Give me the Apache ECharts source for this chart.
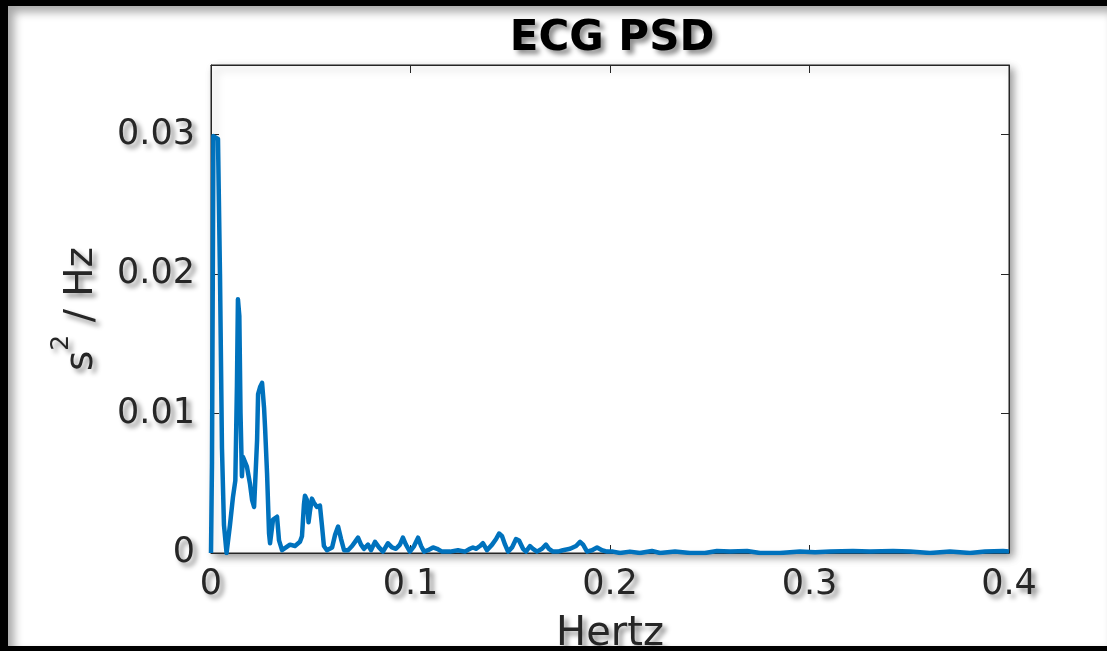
<!DOCTYPE html>
<html>
<head>
<meta charset="utf-8">
<script src="https://cdn.jsdelivr.net/npm/echarts@6/dist/echarts.min.js"></script>
<style>
html,body{margin:0;padding:0;background:#fff;}
#wrap{position:relative;width:1107px;height:651px;overflow:hidden;}
#chart{position:absolute;left:0;top:0;width:1107px;height:651px;}
#frame{position:absolute;left:0;top:0;width:1107px;height:651px;box-sizing:border-box;
  border-top:6px solid #000;border-left:8px solid #000;border-bottom:5px solid #000;
  box-shadow:inset 6px 6px 10px rgba(0,0,0,0.35);pointer-events:none;}
</style>
</head>
<body>
<div id="wrap"><div id="chart"></div><div id="frame"></div></div>
<script>
// Frequency (Hz) and PSD values
const freq = [
  0.0000, 0.0005, 0.0012, 0.0035, 0.0045, 0.0055, 0.0065, 0.0078,
  0.0095, 0.0110, 0.0122, 0.0130, 0.0135, 0.0142, 0.0148, 0.0155,
  0.0160, 0.0180, 0.0195, 0.0206, 0.0216, 0.0231, 0.0236, 0.0246,
  0.0256, 0.0261, 0.0266, 0.0271, 0.0281, 0.0291, 0.0296, 0.0311,
  0.0331, 0.0341, 0.0356, 0.0396, 0.0421, 0.0446, 0.0456, 0.0466,
  0.0471, 0.0481, 0.0489, 0.0496, 0.0506, 0.0516, 0.0531, 0.0546,
  0.0556, 0.0566, 0.0581, 0.0607, 0.0622, 0.0637, 0.0652, 0.0667,
  0.0687, 0.0707, 0.0722, 0.0737, 0.0752, 0.0767, 0.0787, 0.0802,
  0.0822, 0.0842, 0.0862, 0.0887, 0.0907, 0.0927, 0.0947, 0.0962,
  0.0977, 0.0997, 0.1018, 0.1038, 0.1053, 0.1068, 0.1088, 0.1113,
  0.1133, 0.1158, 0.1198, 0.1238, 0.1273, 0.1298, 0.1313, 0.1328,
  0.1348, 0.1363, 0.1383, 0.1409, 0.1429, 0.1444, 0.1459, 0.1474,
  0.1489, 0.1509, 0.1529, 0.1544, 0.1564, 0.1579, 0.1599, 0.1614,
  0.1634, 0.1659, 0.1679, 0.1694, 0.1714, 0.1739, 0.1764, 0.1800,
  0.1830, 0.1850, 0.1865, 0.1885, 0.1910, 0.1935, 0.1960, 0.1985,
  0.2015, 0.2050, 0.2100, 0.2150, 0.2210, 0.2251, 0.2326, 0.2401,
  0.2476, 0.2536, 0.2602, 0.2687, 0.2752, 0.2852, 0.2952, 0.3028,
  0.3103, 0.3218, 0.3303, 0.3419, 0.3504, 0.3604, 0.3704, 0.3805,
  0.3880, 0.3970, 0.4000
];
const psd = [
  0.0000, 0.0065, 0.0299, 0.0297, 0.0200, 0.0075, 0.0020, 0.0000,
  0.0020, 0.0040, 0.0052, 0.0120, 0.0182, 0.0170, 0.0100, 0.0055,
  0.0069, 0.0062, 0.0050, 0.0038, 0.0033, 0.0081, 0.0114, 0.0119,
  0.0122, 0.0122, 0.0104, 0.0090, 0.0057, 0.0014, 0.0007, 0.0024,
  0.0026, 0.0009, 0.0002, 0.0006, 0.0005, 0.0008, 0.0012, 0.0035,
  0.0041, 0.0038, 0.0022, 0.0030, 0.0039, 0.0036, 0.0033, 0.0034,
  0.0020, 0.0005, 0.0002, 0.0004, 0.0013, 0.0019, 0.0010, 0.0002,
  0.0002, 0.0005, 0.0008, 0.0011, 0.0006, 0.0003, 0.0006, 0.0002,
  0.0008, 0.0004, 0.0001, 0.0007, 0.0004, 0.0003, 0.0006, 0.0011,
  0.0006, 0.0001, 0.0005, 0.0011, 0.0005, 0.0001, 0.0002, 0.0004,
  0.0003, 0.0001, 0.0001, 0.0002, 0.0001, 0.0003, 0.0004, 0.0003,
  0.0005, 0.0007, 0.0002, 0.0006, 0.0010, 0.0014, 0.0012, 0.0006,
  0.0001, 0.0004, 0.0010, 0.0009, 0.0003, 0.0001, 0.0005, 0.0003,
  0.0001, 0.0003, 0.0006, 0.0003, 0.0001, 0.0001, 0.0002, 0.0003,
  0.0005, 0.0008, 0.0006, 0.0001, 0.0002, 0.0004, 0.0002, 0.0001,
  0.0001, 0.0000, 0.0001, 0.0000, 0.00015, 0.0000, 0.0001, 0.0000,
  0.0000, 0.00015, 0.0001, 0.00015, 0.0000, 0.0000, 0.0001, 0.00005,
  0.0001, 0.00015, 0.0001, 0.00015, 0.0001, 0.0000, 0.0001, 0.0000,
  0.0001, 0.00015, 0.0001
];
const xTicks = [0, 0.1, 0.2, 0.3, 0.4];
const yTicks = [0, 0.01, 0.02, 0.03];

const FONT = 'DejaVu Sans';
const TXT = '#262626';
const shadow = {textShadowColor:'rgba(0,0,0,0.45)', textShadowBlur:5, textShadowOffsetX:4, textShadowOffsetY:4};
const fmt = v => String(+(+v).toFixed(3));

const chart = echarts.init(document.getElementById('chart'), null, {renderer:'canvas'});
const axisCommon = {
  axisLine:{show:true, onZero:false, lineStyle:{color:TXT, width:1}},
  axisTick:{show:true, inside:true, length:8, lineStyle:{color:TXT, width:1}},
  splitLine:{show:false}
};
chart.setOption({
  animation:false,
  backgroundColor:'#fff',
  title:{
    text:'ECG PSD', left:607, top:13, textAlign:'center',
    textStyle:Object.assign({fontFamily:FONT, fontWeight:'bold', fontSize:42, color:'#000'}, shadow)
  },
  grid:{
    left:211, right:98, top:65, bottom:98, show:true, backgroundColor:'#fff',
    containLabel:false, outerBoundsMode:'none',
    borderColor:TXT, borderWidth:1,
    shadowColor:'rgba(0,0,0,0.4)', shadowBlur:8, shadowOffsetX:4, shadowOffsetY:4
  },
  xAxis:[
    Object.assign({
      type:'value', position:'bottom', min:xTicks[0], max:xTicks[xTicks.length-1], interval:0.1,
      name:'Hertz', nameLocation:'middle', nameGap:62,
      nameTextStyle:Object.assign({fontFamily:FONT, fontSize:40, color:TXT}, shadow),
      axisLabel:Object.assign({fontFamily:FONT, fontSize:35, color:TXT, margin:14, formatter:fmt}, shadow)
    }, axisCommon),
    Object.assign({
      type:'value', position:'top', min:xTicks[0], max:xTicks[xTicks.length-1], interval:0.1,
      axisLabel:{show:false}
    }, axisCommon)
  ],
  yAxis:[
    Object.assign({
      type:'value', position:'left', min:0, max:0.035, interval:0.01,
      name:'{s|s}{p|2}{s| / Hz}', nameLocation:'middle', nameGap:110, nameRotate:90,
      nameTextStyle:{
        rich:{
          s:Object.assign({fontFamily:FONT, fontSize:39, color:TXT, verticalAlign:'bottom', lineHeight:52}, shadow),
          p:Object.assign({fontFamily:FONT, fontSize:25, color:TXT, verticalAlign:'top', lineHeight:52}, shadow)
        }
      },
      axisLabel:Object.assign({fontFamily:FONT, fontSize:35, color:TXT, margin:16, showMaxLabel:false, formatter:fmt}, shadow)
    }, axisCommon),
    Object.assign({
      type:'value', position:'right', min:0, max:0.035, interval:0.01,
      axisLabel:{show:false}
    }, axisCommon)
  ],
  series:[{
    type:'line', xAxisIndex:0, yAxisIndex:0,
    data:freq.map((f,i)=>[f, psd[i]]),
    showSymbol:false, symbol:'none',
    lineStyle:{color:'#0072BD', width:4.5, join:'round'},
    clip:true
  }]
});
</script>
</body>
</html>
